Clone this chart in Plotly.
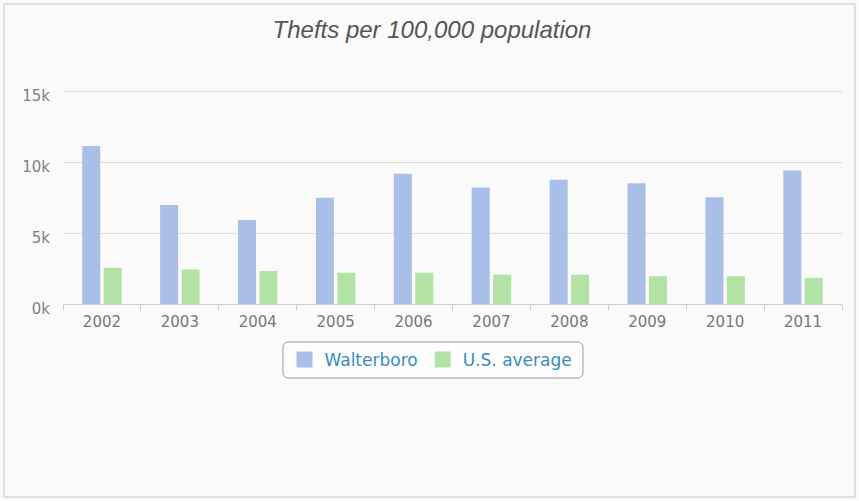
import plotly.graph_objects as go

years = ["2002", "2003", "2004", "2005", "2006", "2007", "2008", "2009", "2010", "2011"]
walterboro = [11130, 6970, 5910, 7490, 9170, 8200, 8750, 8510, 7520, 9410]
us_average = [2550, 2430, 2320, 2200, 2200, 2060, 2060, 1960, 1960, 1840]
y_ticks = [0, 5000, 10000, 15000]
y_tick_labels = ["0k", "5k", "10k", "15k"]

blue = "#a9bfe8"
green = "#b3e2a5"

fig = go.Figure()
fig.add_trace(go.Bar(x=years, y=walterboro, name="Walterboro",
                     marker=dict(color=blue, line=dict(width=0)), showlegend=False))
fig.add_trace(go.Bar(x=years, y=us_average, name="U.S. average",
                     marker=dict(color=green, line=dict(width=0)), showlegend=False))
# legend entries with larger square swatches
fig.add_trace(go.Scatter(x=[None], y=[None], mode="markers", name="Walterboro",
                         marker=dict(symbol="square", size=17, color=blue)))
fig.add_trace(go.Scatter(x=[None], y=[None], mode="markers", name="U.S. average",
                         marker=dict(symbol="square", size=17, color=green)))

W, H = 859, 501
ml, mr, mt, mb = 63, 17, 89, 197
pw, ph = W - ml - mr, H - mt - mb

def px_x(x):
    return (x - ml) / pw

def px_y(y):
    return (H - mb - y) / ph

def rounded_rect(x0, y0, x1, y1, r):
    X = lambda v: px_x(v)
    Y = lambda v: px_y(v)
    return (f"M {X(x0 + r)},{Y(y0)} L {X(x1 - r)},{Y(y0)} "
            f"Q {X(x1)},{Y(y0)} {X(x1)},{Y(y0 + r)} "
            f"L {X(x1)},{Y(y1 - r)} Q {X(x1)},{Y(y1)} {X(x1 - r)},{Y(y1)} "
            f"L {X(x0 + r)},{Y(y1)} Q {X(x0)},{Y(y1)} {X(x0)},{Y(y1 - r)} "
            f"L {X(x0)},{Y(y0 + r)} Q {X(x0)},{Y(y0)} {X(x0 + r)},{Y(y0)} Z")

fig.update_layout(
    width=W, height=H,
    margin=dict(l=ml, r=mr, t=mt, b=mb),
    paper_bgcolor="#fafafa",
    plot_bgcolor="#fafafa",
    barmode="group",
    bargap=0.45,
    bargroupgap=0.16,
    title=dict(text="<i>Thefts per 100,000 population</i>",
               font=dict(family="Liberation Sans, Arial", size=24, color="#555555"),
               x=432 / W, xanchor="center", xref="container", y=1 - 30 / H, yanchor="middle"),
    xaxis=dict(
        showgrid=False,
        showline=True, linecolor="#cccccc", linewidth=1,
        ticks="outside", tickson="boundaries", ticklen=5, tickcolor="#cccccc",
        ticklabelstandoff=4,
        tickfont=dict(family="DejaVu Sans", size=15, color="#777777"),
    ),
    yaxis=dict(
        range=[0, 15141],
        tickvals=y_ticks, ticktext=y_tick_labels,
        showgrid=True, gridcolor="#dddddd", gridwidth=1,
        zeroline=False, showline=False,
        ticks="", ticklen=0, ticklabelstandoff=12, ticklabelshift=5,
        tickfont=dict(family="DejaVu Sans", size=15, color="#808080"),
    ),
    legend=dict(
        orientation="h",
        x=px_x(431), xanchor="center",
        y=px_y(342), yanchor="top",
        bgcolor="rgba(0,0,0,0)",
        borderwidth=0,
        font=dict(family="DejaVu Sans", size=17, color="#3a8dbb"),
        itemwidth=30,
        itemsizing="trace",
    ),
    shapes=[
        dict(type="rect", xref="paper", yref="paper",
             x0=px_x(4), x1=px_x(855), y0=px_y(497), y1=px_y(4),
             line=dict(color="#c8c8c8", width=1), fillcolor="rgba(0,0,0,0)",
             layer="below"),
        dict(type="path", xref="paper", yref="paper",
             path=rounded_rect(283, 342, 583, 378, 6),
             line=dict(color="#999999", width=1), fillcolor="#fdfdfd",
             layer="below"),
    ],
)

fig.write_html("out.html", config={"displayModeBar": False},
               post_script="document.body.style.margin='0';")
